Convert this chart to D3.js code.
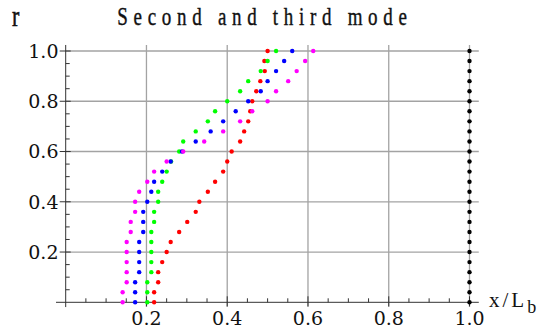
<!DOCTYPE html>
<html>
<head>
<meta charset="utf-8">
<script src="https://cdn.jsdelivr.net/npm/d3@7"></script>
<style>
  body { margin: 0; background: #fff; }
  svg { display: block; }
</style>
</head>
<body>
<div id="chart"></div>
<script>
// r values (vertical) shared by every series
const rValues = [0, 0.04, 0.08, 0.12, 0.16, 0.2, 0.24, 0.28, 0.32, 0.36, 0.4, 0.44, 0.48,
  0.52, 0.56, 0.6, 0.64, 0.68, 0.72, 0.76, 0.8, 0.84, 0.88, 0.92, 0.96, 1.0];

// x/Lb for each series
const blackX = [1, 1, 1, 1, 1, 1, 1, 1, 1, 1, 1, 1, 1, 1, 1, 1, 1, 1, 1, 1, 1, 1, 1, 1, 1, 1];
const redX = [0.219, 0.219, 0.229, 0.229, 0.239, 0.250, 0.260, 0.281, 0.301, 0.322, 0.331, 0.352, 0.370,
  0.390, 0.400, 0.411, 0.432, 0.442, 0.452, 0.457, 0.462, 0.472, 0.482, 0.493, 0.492, 0.500];
const greenX = [0.202, 0.202, 0.202, 0.212, 0.212, 0.212, 0.212, 0.212, 0.219, 0.219, 0.229, 0.229, 0.239,
  0.250, 0.261, 0.281, 0.291, 0.322, 0.352, 0.370, 0.400, 0.432, 0.452, 0.483, 0.500, 0.521];
const blueX = [0.172, 0.172, 0.172, 0.182, 0.182, 0.182, 0.182, 0.192, 0.192, 0.192, 0.202, 0.212, 0.219,
  0.239, 0.260, 0.288, 0.322, 0.359, 0.390, 0.421, 0.452, 0.483, 0.500, 0.521, 0.541, 0.561];
const magentaX = [0.141, 0.141, 0.151, 0.151, 0.151, 0.151, 0.151, 0.161, 0.161, 0.172, 0.172, 0.182, 0.202,
  0.219, 0.250, 0.291, 0.343, 0.390, 0.432, 0.462, 0.500, 0.521, 0.551, 0.572, 0.593, 0.613];

const seriesNames = ["black", "red", "green", "blue", "magenta"];
const seriesColors = ["#000000", "#ff0000", "#00ff00", "#0000ff", "#ff00ff"];
const seriesX = [blackX, redX, greenX, blueX, magentaX];

const majorTicks = [0.2, 0.4, 0.6, 0.8, 1.0];
const minorTicks = [0.05, 0.1, 0.15, 0.25, 0.3, 0.35, 0.45, 0.5, 0.55, 0.65, 0.7, 0.75, 0.85, 0.9, 0.95];

const width = 551;
const height = 332;

const x = d3.scaleLinear().domain([0, 1]).range([65.7, 469.5]);
const y = d3.scaleLinear().domain([0, 1]).range([302.3, 51]);
const xMin = -0.024, xMax = 1.023;
const yMin = -0.019, yMax = 1.024;

const svg = d3.select("#chart")
  .append("svg")
  .attr("width", width)
  .attr("height", height)
  .style("background", "#fff");

// grid
const grid = svg.append("g")
  .attr("stroke", "#a3a3a3")
  .attr("stroke-width", 1.3);

grid.selectAll("line.v")
  .data(majorTicks)
  .join("line")
  .attr("class", "v")
  .attr("x1", (d) => x(d)).attr("x2", (d) => x(d))
  .attr("y1", y(yMin)).attr("y2", y(yMax));

grid.selectAll("line.h")
  .data(majorTicks)
  .join("line")
  .attr("class", "h")
  .attr("x1", x(0)).attr("x2", x(xMax))
  .attr("y1", (d) => y(d)).attr("y2", (d) => y(d));

// axes
const axes = svg.append("g")
  .attr("stroke", "#333")
  .attr("stroke-width", 1);

axes.append("line")
  .attr("x1", x(xMin)).attr("x2", x(xMax))
  .attr("y1", y(0)).attr("y2", y(0));
axes.append("line")
  .attr("x1", x(0)).attr("x2", x(0))
  .attr("y1", y(yMin)).attr("y2", y(yMax));

axes.selectAll("line.xmaj")
  .data(majorTicks)
  .join("line")
  .attr("class", "xmaj")
  .attr("x1", (d) => x(d)).attr("x2", (d) => x(d))
  .attr("y1", y(0) - 6).attr("y2", y(0) + 4);
axes.selectAll("line.xmin")
  .data(minorTicks)
  .join("line")
  .attr("class", "xmin")
  .attr("x1", (d) => x(d)).attr("x2", (d) => x(d))
  .attr("y1", y(0) - 4).attr("y2", y(0));

axes.selectAll("line.ymaj")
  .data(majorTicks)
  .join("line")
  .attr("class", "ymaj")
  .attr("x1", x(0) - 6).attr("x2", x(0) + 5)
  .attr("y1", (d) => y(d)).attr("y2", (d) => y(d));
axes.selectAll("line.ymin")
  .data(minorTicks)
  .join("line")
  .attr("class", "ymin")
  .attr("x1", x(0)).attr("x2", x(0) + 4)
  .attr("y1", (d) => y(d)).attr("y2", (d) => y(d));

// tick labels
const fmt = d3.format(".1f");
const labelFont = "'DejaVu Serif', serif";

svg.append("g")
  .selectAll("text")
  .data(majorTicks)
  .join("text")
  .attr("x", (d) => x(d))
  .attr("y", 325)
  .attr("text-anchor", "middle")
  .style("font-family", labelFont)
  .style("font-size", "19px")
  .style("fill", "#111")
  .text((d) => fmt(d));

svg.append("g")
  .selectAll("text")
  .data(majorTicks)
  .join("text")
  .attr("x", 58.5)
  .attr("y", (d) => y(d))
  .attr("dy", "0.36em")
  .attr("text-anchor", "end")
  .style("font-family", labelFont)
  .style("font-size", "19px")
  .style("fill", "#111")
  .text((d) => fmt(d));

// points
seriesNames.forEach((name, si) => {
  svg.append("g")
    .attr("class", "series-" + name)
    .selectAll("circle")
    .data(rValues.map((r, i) => ({ r: r, x: seriesX[si][i] })))
    .join("circle")
    .attr("cx", (d) => x(d.x))
    .attr("cy", (d) => y(d.r))
    .attr("r", 2.2)
    .attr("fill", seriesColors[si]);
});

// titles
const titleFont = "'Liberation Serif', 'Times New Roman', serif";

svg.append("text")
  .attr("transform", "translate(265,25) scale(1,1.3)")
  .attr("text-anchor", "middle")
  .style("font-family", titleFont)
  .style("font-size", "19px")
  .style("letter-spacing", "5.7px")
  .style("stroke", "#111")
  .style("stroke-width", 0.3)
  .style("fill", "#111")
  .text("Second and third mode");

svg.append("text")
  .attr("transform", "translate(12,26) scale(1,1.3)")
  .style("font-family", titleFont)
  .style("font-size", "22px")
  .style("stroke", "#111")
  .style("stroke-width", 0.4)
  .style("fill", "#111")
  .text("r");

const xl = svg.append("text")
  .attr("x", 489)
  .attr("y", 307)
  .style("font-family", titleFont)
  .style("font-size", "21px")
  .style("letter-spacing", "3px")
  .style("fill", "#111");
xl.append("tspan").text("x/L");
xl.append("tspan").attr("dy", 6).style("font-size", "18px").text("b");
</script>
</body>
</html>
